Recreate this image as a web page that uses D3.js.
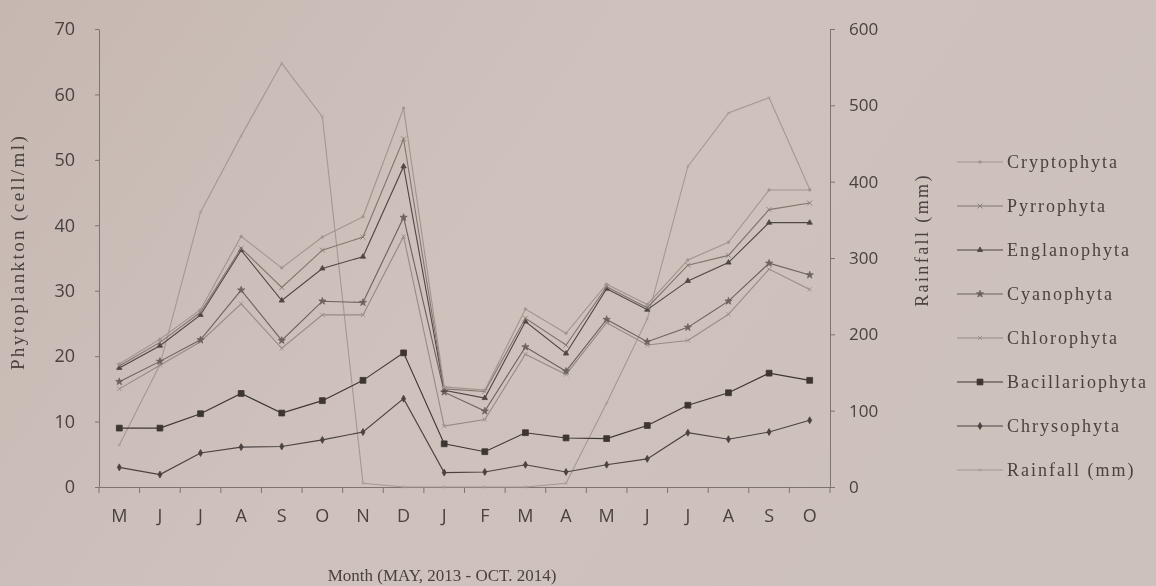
<!DOCTYPE html>
<html>
<head>
<meta charset="utf-8">
<script src="https://cdn.jsdelivr.net/npm/d3@7"></script>
<style>
  html, body { margin: 0; padding: 0; background: #cdbfb9; }
  svg { display: block; }
</style>
</head>
<body>
<svg id="chart" width="1156" height="586"></svg>
<script>
// Months, May 2013 - Oct 2014
const months = ["M", "J", "J", "A", "S", "O", "N", "D", "J", "F", "M", "A", "M", "J", "J", "A", "S", "O"];

// Phytoplankton (cell/ml)
const cryptophyta = [18.8, 22.6, 27.1, 38.3, 33.5, 38.2, 41.3, 57.9, 15.3, 14.8, 27.2, 23.5, 31.0, 27.9, 34.7, 37.4, 45.4, 45.4];
const pyrrophyta = [18.5, 22.1, 26.7, 36.5, 30.5, 36.2, 38.2, 53.2, 15.0, 14.6, 25.8, 21.7, 30.6, 27.4, 33.9, 35.4, 42.4, 43.4];
const englanophyta = [18.2, 21.6, 26.3, 36.2, 28.5, 33.4, 35.2, 49.0, 14.8, 13.6, 25.3, 20.4, 30.3, 27.1, 31.5, 34.3, 40.4, 40.4];
const cyanophyta = [16.1, 19.2, 22.5, 30.1, 22.4, 28.4, 28.2, 41.2, 14.5, 11.6, 21.4, 17.7, 25.6, 22.2, 24.4, 28.4, 34.2, 32.4];
const chlorophyta = [15.0, 18.6, 22.2, 28.0, 21.2, 26.3, 26.3, 38.3, 9.3, 10.3, 20.3, 17.2, 25.1, 21.7, 22.4, 26.4, 33.3, 30.2];
const bacillariophyta = [9.0, 9.0, 11.2, 14.3, 11.3, 13.2, 16.3, 20.5, 6.6, 5.4, 8.3, 7.5, 7.4, 9.4, 12.5, 14.4, 17.4, 16.3];
const chrysophyta = [3.0, 1.9, 5.2, 6.1, 6.2, 7.2, 8.4, 13.5, 2.2, 2.3, 3.4, 2.3, 3.4, 4.3, 8.3, 7.3, 8.4, 10.2];

// Rainfall (mm)
const rainfall = [55, 160, 360, 460, 555, 485, 5, 0, 0, 0, 0, 5, 110, 220, 420, 490, 510, 390];

const leftTicks = [0, 10, 20, 30, 40, 50, 60, 70];
const rightTicks = [0, 100, 200, 300, 400, 500, 600];

const svg = d3.select("#chart");
const W = 1156, H = 586;

// paper background + slight photo softness
const defs = svg.append("defs");
const paper = defs.append("linearGradient")
  .attr("id", "paper")
  .attr("x1", 0).attr("y1", 0).attr("x2", 1).attr("y2", 0.35);
paper.append("stop").attr("offset", "0%").attr("stop-color", "#c6b7b1");
paper.append("stop").attr("offset", "50%").attr("stop-color", "#cfc2bc");
paper.append("stop").attr("offset", "100%").attr("stop-color", "#cdc1bc");
defs.append("filter").attr("id", "soft")
  .append("feGaussianBlur").attr("stdDeviation", 0.45);

svg.append("rect").attr("width", W).attr("height", H).attr("fill", "url(#paper)");

const g = svg.append("g").attr("filter", "url(#soft)");

const plot = { left: 99, right: 830, top: 29, bottom: 487 };

const x = d3.scaleBand()
  .domain(d3.range(months.length))
  .range([plot.left, plot.right]);
const cx = (i) => x(i) + x.bandwidth() / 2;

const y = d3.scaleLinear().domain([0, 70]).range([plot.bottom, plot.top]);
const yRain = d3.scaleLinear().domain([0, 600]).range([plot.bottom, plot.top]);

const axisColor = "#7d7370";
const textColor = "#4a4240";

// Left axis
const gLeft = g.append("g")
  .attr("transform", `translate(${plot.left},0)`)
  .call(d3.axisLeft(y).tickValues(leftTicks).tickSize(4).tickSizeOuter(0).tickPadding(20));
gLeft.selectAll("text")
  .style("font-family", "'Open Sans', sans-serif")
  .style("font-size", "18px")
  .style("fill", textColor);

// Right axis
const gRight = g.append("g")
  .attr("transform", `translate(${plot.right},0)`)
  .call(d3.axisRight(yRain).tickValues(rightTicks).tickSize(5).tickSizeOuter(0).tickPadding(14));
gRight.selectAll("text")
  .style("font-family", "'Open Sans', sans-serif")
  .style("font-size", "17px")
  .style("fill", textColor);

// Bottom axis: labels at month centres, ticks on the band edges
const gBottom = g.append("g")
  .attr("transform", `translate(0,${plot.bottom})`)
  .call(d3.axisBottom(x).tickFormat((i) => months[i]).tickSize(0).tickPadding(22));
gBottom.selectAll("text")
  .style("font-family", "'Open Sans', sans-serif")
  .style("font-size", "18px")
  .style("fill", textColor);
gBottom.selectAll(".edge")
  .data(d3.range(months.length + 1))
  .join("line")
  .attr("class", "edge")
  .attr("x1", (i) => plot.left + i * x.step())
  .attr("x2", (i) => plot.left + i * x.step())
  .attr("y1", 0)
  .attr("y2", 6);

g.selectAll(".domain, .tick line, .edge")
  .attr("stroke", axisColor)
  .attr("stroke-width", 1);

// Axis titles
g.append("text")
  .attr("transform", "translate(24,252) rotate(-90)")
  .attr("text-anchor", "middle")
  .style("font-family", "'Liberation Serif', serif")
  .style("font-size", "19px")
  .style("letter-spacing", "2.4px")
  .style("fill", textColor)
  .text("Phytoplankton (cell/ml)");

g.append("text")
  .attr("transform", "translate(928,240) rotate(-90)")
  .attr("text-anchor", "middle")
  .style("font-family", "'Liberation Serif', serif")
  .style("font-size", "18px")
  .style("letter-spacing", "2.4px")
  .style("fill", textColor)
  .text("Rainfall (mm)");

g.append("text")
  .attr("x", 442)
  .attr("y", 581)
  .attr("text-anchor", "middle")
  .style("font-family", "'Liberation Serif', serif")
  .style("font-size", "17px")
  .style("fill", textColor)
  .text("Month (MAY, 2013 - OCT. 2014)");

// Series styling
const series = [
  { name: "Cryptophyta", values: cryptophyta, scale: y, color: "#a0958f", symbol: d3.symbolCircle, size: 5 },
  { name: "Pyrrophyta", values: pyrrophyta, scale: y, color: "#80766f", symbol: d3.symbolTimes, size: 18 },
  { name: "Englanophyta", values: englanophyta, scale: y, color: "#4f4643", symbol: d3.symbolTriangle, size: 12 },
  { name: "Cyanophyta", values: cyanophyta, scale: y, color: "#6c625e", symbol: d3.symbolStar, size: 16 },
  { name: "Chlorophyta", values: chlorophyta, scale: y, color: "#968b86", symbol: d3.symbolTimes, size: 14 },
  { name: "Bacillariophyta", values: bacillariophyta, scale: y, color: "#3e3633", symbol: d3.symbolSquare, size: 34 },
  { name: "Chrysophyta", values: chrysophyta, scale: y, color: "#4a4240", symbol: d3.symbolDiamond, size: 14 },
  { name: "Rainfall (mm)", values: rainfall, scale: yRain, color: "#a39994", symbol: d3.symbolTimes, size: 6 }
];

const gLines = g.append("g");
series.slice().reverse().forEach((s) => {
  const line = d3.line().x((d, i) => cx(i)).y((d) => s.scale(d));
  gLines.append("path")
    .datum(s.values)
    .attr("fill", "none")
    .attr("stroke", s.color)
    .attr("stroke-width", 1.1)
    .attr("d", line);
  gLines.selectAll(null)
    .data(s.values)
    .join("path")
    .attr("transform", (d, i) => `translate(${cx(i)},${s.scale(d)})`)
    .attr("d", d3.symbol().type(s.symbol).size(s.size))
    .attr("fill", s.color)
    .attr("stroke", s.color)
    .attr("stroke-width", 0.8);
});

// Legend
const legend = g.append("g");
const rows = legend.selectAll("g")
  .data(series)
  .join("g")
  .attr("transform", (d, i) => `translate(957,${162 + i * 44})`);
rows.append("line")
  .attr("x1", 0).attr("x2", 46)
  .attr("stroke", (d) => d.color)
  .attr("stroke-width", 1.1);
rows.append("path")
  .attr("transform", "translate(23,0)")
  .attr("d", (d) => d3.symbol().type(d.symbol).size(d.size)())
  .attr("fill", (d) => d.color)
  .attr("stroke", (d) => d.color)
  .attr("stroke-width", 0.8);
rows.append("text")
  .attr("x", 50)
  .attr("dy", "0.32em")
  .style("font-family", "'Liberation Serif', serif")
  .style("font-size", "18px")
  .style("letter-spacing", "2px")
  .style("fill", textColor)
  .text((d) => d.name);
</script>
</body>
</html>
